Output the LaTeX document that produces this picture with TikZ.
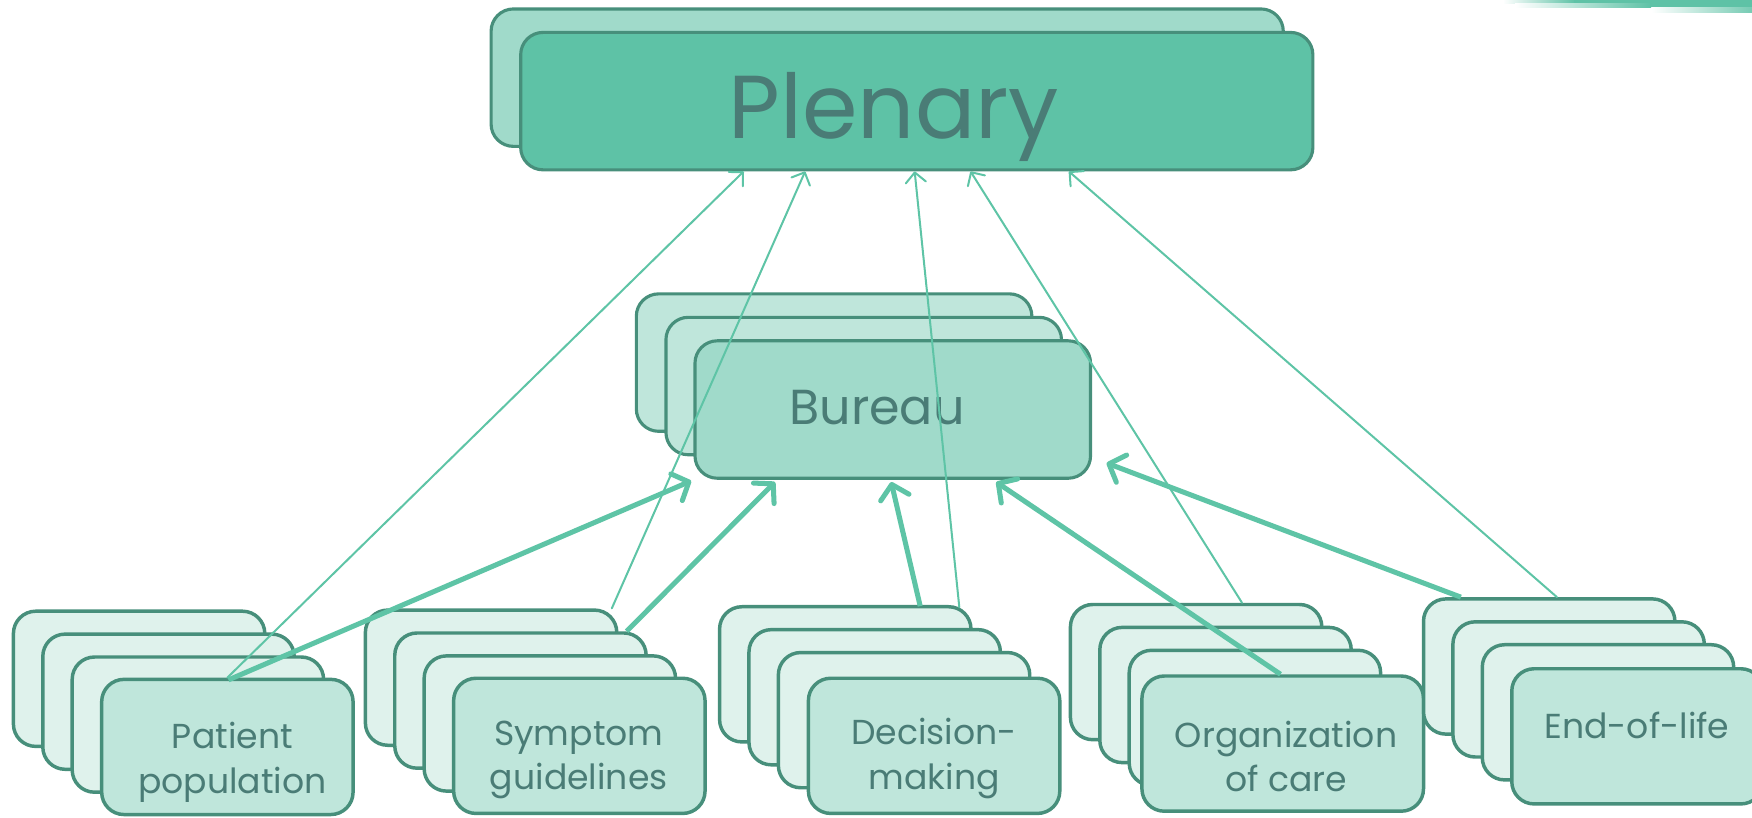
\documentclass[tikz,border=0pt]{standalone}
\usepackage{fontspec}
\setmainfont{Poppins}
\usetikzlibrary{arrows.meta,calc}
\definecolor{bord}{HTML}{478F7B}
\definecolor{fA}{HTML}{DFF2EC}
\definecolor{fB}{HTML}{BFE6DB}
\definecolor{fC}{HTML}{A0DACA}
\definecolor{fD}{HTML}{5EC2A6}
\definecolor{arr}{HTML}{5EC4A6}
\definecolor{txt}{HTML}{4A7C76}
\newcommand\backcards[3]{%
  \node[card, fill=fA] (#1a) at (#2+112.5, #3+60.5) {};
  \node[card, fill=fA] (#1b) at (#2+138.8, #3+81) {};
  \node[card, fill=fA] (#1c) at (#2+165.1, #3+101.5) {};
}
\begin{document}
\begin{tikzpicture}[x=1pt,y=-1pt,
  card/.style={draw=bord, line width=3.1pt, rounded corners=20pt,
    minimum width=225pt, minimum height=121pt, inner sep=0pt},
  bigbox/.style={draw=bord, line width=2.8pt, rounded corners=20pt,
    minimum width=354pt, minimum height=123pt, inner sep=0pt},
  lbl/.style={text=txt, align=center, font=\fontsize{31}{40}\selectfont, inner sep=0pt},
  thin/.style={draw=arr, line width=1.8pt, line cap=round, -{Straight Barb[length=9pt,width=18pt,round]}},
  thick/.style={draw=arr, line width=4.5pt, -{Straight Barb[length=12pt,width=26pt,round]}}]
\useasboundingbox (0,0) rectangle (1568,731.2);
\clip (0,0) rectangle (1568,731.2);

% top-right decorative stripes
\shade[left color=white, right color=fD] (1345,0) rectangle (1410,2.8);
\fill[fD] (1409,0) rectangle (1568,2.8);
\shade[left color=white, right color=fD] (1356,2.8) rectangle (1478,6.6);
\fill[fD] (1477,2.8) rectangle (1568,6.6);
\shade[left color=white, right color=fD!85] (1478,6.6) rectangle (1568,11.6);

% Plenary
\node[bigbox, fill=fC, minimum width=709pt] (plenb) at (794,69.5) {};
\node[bigbox, fill=fD, minimum width=709pt] (plen) at (820.5,90.5) {};
\node[text=txt, font=\fontsize{80}{90}\selectfont, anchor=base, inner sep=0pt] (plenT) at (800,124) {Plenary};

% Bureau
\node[bigbox, fill=fB] (bura) at (746.5,324.5) {};
\node[bigbox, fill=fB] (burb) at (773,345.5) {};
\node[bigbox, fill=fC] (bur) at (799,366.5) {};
\node[text=txt, font=\fontsize{44}{50}\selectfont, anchor=base, inner sep=0pt] (burT) at (785,380) {Bureau};

% bottom stacks
\backcards{pat}{12}{547}
\node[card, fill=fB] (pat) at (203.5,668.5) {};
\node[lbl] (patT) at (208,682) {Patient\\population};

\backcards{sym}{327}{546}
\node[card, fill=fB] (sym) at (518.5,667.5) {};
\node[lbl] (symT) at (518,680) {Symptom\\guidelines};

\backcards{dec}{644}{543}
\node[card, fill=fB] (dec) at (836,667.5) {};
\node[lbl] (decT) at (836,679) {Decision-\\making};

\backcards{org}{958}{541}
\node[card, fill=fB, minimum width=252pt] (org) at (1148,665.5) {};
\node[lbl] (orgT) at (1151,677) {Organization\\of care};

\backcards{eol}{1274}{536}
\node[card, fill=fB] (eol) at (1465.5,659) {};
\node[text=txt, font=\fontsize{31}{40}\selectfont, anchor=base, inner sep=0pt] (eolT) at (1465,661) {End-of-life};

% thin arrows to Plenary
\draw[thin] (pat.north) -- ($(plen.south west)+(201,0)$);
\draw[thin] ($(syma.north east)+(-6,0)$) -- ($(plen.south west)+(256,0)$);
\draw[thin] ($(deca.north east)+(-12,2)$) -- ($(plen.south west)+(354,0)$);
\draw[thin] ($(orga.north east)+(-73,0)$) -- ($(plen.south west)+(404,0)$);
\draw[thin] ($(eola.north west)+(121,0)$) -- ($(plen.south west)+(492,0)$);

% thick arrows to Bureau
\draw[thick] ($(pat.north)+(1,2)$) -- ($(bur.south west)+(-2,1)$);
\draw[thick] ($(symb.north east)+(-19,0)$) -- ($(bur.south west)+(73,2)$);
\draw[thick] ($(deca.north east)+(-47,1)$) -- ($(bur.south west)+(177,2)$);
\draw[thick] ($(org.north)+(-2,0)$) -- ($(bur.south west)+(271,2)$);
\draw[thick] ($(eola.north west)+(35,0)$) -- ($(bur.south east)+(13,-15)$);
\end{tikzpicture}
\end{document}
